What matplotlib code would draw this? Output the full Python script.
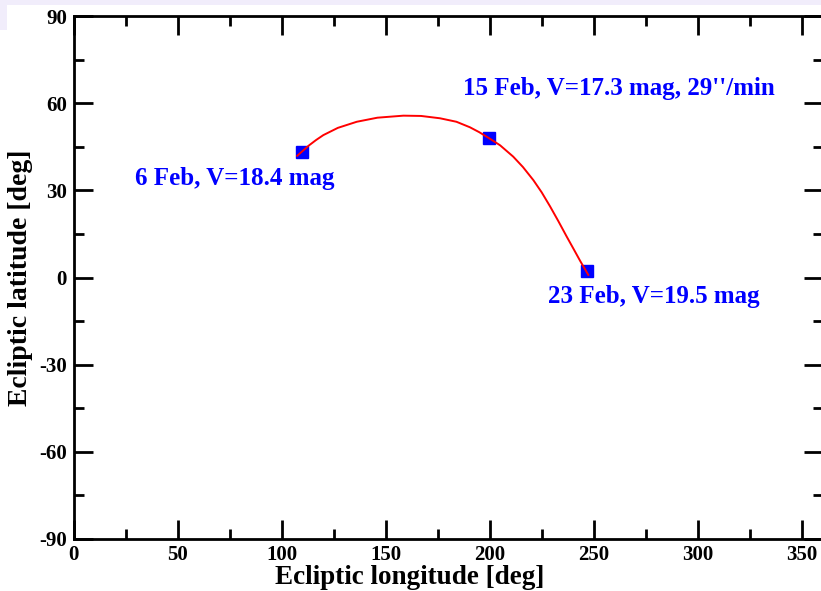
import matplotlib
matplotlib.use("Agg")
import matplotlib.pyplot as plt
from matplotlib.patches import Rectangle
from matplotlib.ticker import MultipleLocator

plt.rcParams['font.family'] = ['Liberation Serif', 'DejaVu Serif']
plt.rcParams['font.weight'] = 'bold'
plt.rcParams['axes.unicode_minus'] = False

# Observed positions (ecliptic lon/lat, deg)
obs_lon = [109.9, 199.8, 246.9]
obs_lat = [43.3, 47.9, 2.3]
obs_labels = ["6 Feb, V=18.4 mag",
              "15 Feb, V=17.3 mag, 29''/min",
              "23 Feb, V=19.5 mag"]
label_lon = [29.5, 187.2, 228.0]
label_lat = [34.2, 65.2, -6.4]

# Track between the dates
track_lon = [107.5, 110.0, 113.0, 116.5, 120.0, 127.0, 136.1, 146.0, 158.5,
             167.0, 176.1, 184.0, 190.5, 195.0, 199.8, 205.0, 211.3, 216.0,
             221.0, 225.0, 229.0, 233.0, 237.0, 240.5, 243.5, 247.4]
track_lat = [41.9, 43.5, 45.4, 47.3, 49.0, 51.5, 53.6, 55.0, 55.7,
             55.6, 54.8, 53.6, 51.7, 50.0, 47.9, 45.5, 41.6, 38.0,
             33.5, 29.3, 24.5, 19.4, 14.1, 9.6, 5.7, 0.9]

W, H = 821, 591
fig = plt.figure(figsize=(W / 100, H / 100), dpi=100)
fig.patch.set_facecolor('white')

# slide background strips
fig.patches.append(Rectangle((0, 1 - 5 / H), 1, 5 / H, transform=fig.transFigure,
                             facecolor='#f1edfb', edgecolor='none', zorder=0))
fig.patches.append(Rectangle((0, 1 - 30 / H), 7 / W, 30 / H, transform=fig.transFigure,
                             facecolor='#f1edfb', edgecolor='none', zorder=0))

left, right = 73.7 / W, 822.5 / W
bottom, top = 1 - 539 / H, 1 - 16 / H
ax = fig.add_axes([left, bottom, right - left, top - bottom])

ax.plot(obs_lon, obs_lat, 's', color='#0000ff', markersize=8, zorder=2)
ax.plot(track_lon, track_lat, '-', color='#ff0000', lw=1.4, zorder=3)

for lbl, x, y in zip(obs_labels, label_lon, label_lat):
    ax.text(x, y, lbl, color='#0000ff', fontsize=18, fontweight='bold',
            ha='left', va='center')

ax.set_xlim(0, 360)
ax.set_ylim(-90, 90)
ax.xaxis.set_major_locator(MultipleLocator(50))
ax.xaxis.set_minor_locator(MultipleLocator(25))
ax.yaxis.set_major_locator(MultipleLocator(30))
ax.yaxis.set_minor_locator(MultipleLocator(15))
ax.tick_params(which='both', direction='in', top=True, right=True,
               labelsize=15, width=2)
ax.tick_params(which='major', length=14)
ax.tick_params(which='minor', length=7)
ax.tick_params(axis='x', pad=4)
ax.tick_params(axis='y', pad=5)
for s in ax.spines.values():
    s.set_linewidth(2)
for t in ax.get_xticklabels() + ax.get_yticklabels():
    t.set_fontweight('bold')

ax.set_xlabel("Ecliptic longitude [deg]", fontsize=19.5, fontweight='bold', labelpad=0)
ax.xaxis.set_label_coords(0.449, -0.049, transform=ax.transAxes)
ax.xaxis.label.set_va('top')
ax.set_ylabel("Ecliptic latitude [deg]", fontsize=20, fontweight='bold', labelpad=4)

fig.savefig("out.png", dpi=100)
